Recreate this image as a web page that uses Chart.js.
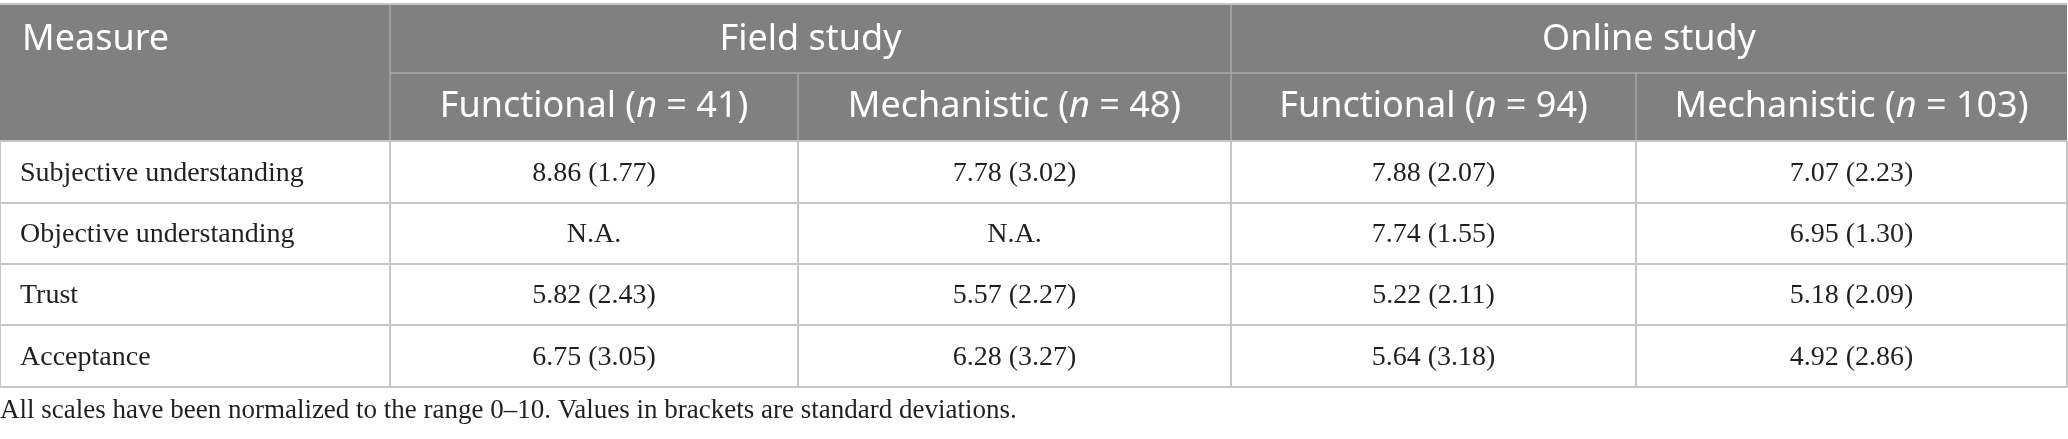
<!DOCTYPE html>
<html>
<head>
<meta charset="utf-8">
<script src="https://cdn.jsdelivr.net/npm/chart.js"></script>
<style>
  html, body { margin: 0; padding: 0; background: #ffffff; }
  #wrap { width: 2068px; height: 439px; }
</style>
</head>
<body>
<div id="wrap"><canvas id="tableChart" width="2068" height="439"></canvas></div>
<script>
// table content
const headerMeasure = "Measure";
const studies = ["Field study", "Online study"];
const conditions = ["Functional", "Mechanistic"];
const sampleSizes = [41, 48, 94, 103];
const measures = ["Subjective understanding", "Objective understanding", "Trust", "Acceptance"];
const missingLabel = "N.A.";

const fieldFunctionalM = [8.86, null, 5.82, 6.75];
const fieldFunctionalSD = [1.77, null, 2.43, 3.05];
const fieldMechanisticM = [7.78, null, 5.57, 6.28];
const fieldMechanisticSD = [3.02, null, 2.27, 3.27];
const onlineFunctionalM = [7.88, 7.74, 5.22, 5.64];
const onlineFunctionalSD = [2.07, 1.55, 2.11, 3.18];
const onlineMechanisticM = [7.07, 6.95, 5.18, 4.92];
const onlineMechanisticSD = [2.23, 1.30, 2.09, 2.86];

const footnote = "All scales have been normalized to the range 0\u201310. Values in brackets are standard deviations.";

// layout (table units), kept apart from the data
const colWidths = [390, 408, 433, 405, 431];
const rowHeights = [69, 68, 62, 61, 61, 62];
const cellPadLeft = 20;
const headerPadLeft = 22;

const headerFill = "#808080";
const headerLine = "#a9a9a9";
const bodyLine = "#c6c6c6";
const textDark = "#231f20";
const sansFont = "'Noto Sans', 'Open Sans', sans-serif";
const serifFont = "'Liberation Serif', 'DejaVu Serif', serif";
const headerSize = 36;
const bodySize = 28;
const noteSize = 27;

function edges(sizes) {
  const out = [0];
  sizes.forEach(s => out.push(out[out.length - 1] + s));
  return out;
}
const colEdges = edges(colWidths);
const rowEdges = edges(rowHeights);
const colCenter = c => (colEdges[c] + colEdges[c + 1]) / 2;
const rowCenter = r => (rowEdges[r] + rowEdges[r + 1]) / 2;

function cellText(m, sd) {
  if (m === null) return missingLabel;
  return `${m.toFixed(2)} (${sd.toFixed(2)})`;
}

const valueColumns = [
  [fieldFunctionalM, fieldFunctionalSD],
  [fieldMechanisticM, fieldMechanisticSD],
  [onlineFunctionalM, onlineFunctionalSD],
  [onlineMechanisticM, onlineMechanisticSD],
];

// one dataset per table column, points sit at the cell anchors
const datasets = [];
datasets.push({
  label: headerMeasure,
  data: measures.map((name, i) => ({ x: colEdges[0] + cellPadLeft, y: rowCenter(2 + i), text: name })),
  align: "left",
  pointRadius: 0,
});
valueColumns.forEach(([ms, sds], j) => {
  datasets.push({
    label: conditions[j % 2],
    data: ms.map((m, i) => ({ x: colCenter(1 + j), y: rowCenter(2 + i), text: cellText(m, sds[i]) })),
    align: "center",
    pointRadius: 0,
  });
});

function drawLine(ctx, x1, y1, x2, y2) {
  ctx.beginPath();
  ctx.moveTo(x1, y1);
  ctx.lineTo(x2, y2);
  ctx.stroke();
}

// header label with italic n, centred on cx
function drawHeaderLabel(ctx, cond, n, cx, cy) {
  const parts = [
    [cond + " (", "normal"],
    ["n", "italic"],
    [" = " + n + ")", "normal"],
  ];
  let total = 0;
  parts.forEach(([t, st]) => {
    ctx.font = `${st} 400 ${headerSize}px ${sansFont}`;
    total += ctx.measureText(t).width;
  });
  let x = cx - total / 2;
  parts.forEach(([t, st]) => {
    ctx.font = `${st} 400 ${headerSize}px ${sansFont}`;
    ctx.fillText(t, x, cy);
    x += ctx.measureText(t).width;
  });
}

const tablePlugin = {
  id: "tablePlugin",
  beforeDatasetsDraw(chart) {
    const { ctx, scales: { x, y } } = chart;
    const xe = colEdges.map(v => x.getPixelForValue(v));
    const ye = rowEdges.map(v => y.getPixelForValue(v));
    const last = xe.length - 1;
    ctx.save();

    // header block
    ctx.fillStyle = headerFill;
    ctx.fillRect(xe[0], ye[0], xe[last] - xe[0], ye[2] - ye[0]);

    // header inner lines
    ctx.strokeStyle = headerLine;
    ctx.lineWidth = 1.5;
    drawLine(ctx, xe[1], ye[1], xe[last], ye[1]);
    drawLine(ctx, xe[1], ye[0], xe[1], ye[2]);
    drawLine(ctx, xe[3], ye[0], xe[3], ye[2]);
    drawLine(ctx, xe[2], ye[1], xe[2], ye[2]);
    drawLine(ctx, xe[4], ye[1], xe[4], ye[2]);

    // body grid + outer border
    ctx.strokeStyle = bodyLine;
    ctx.lineWidth = 2;
    drawLine(ctx, xe[0], ye[0], xe[last], ye[0]);
    for (let r = 2; r < ye.length; r++) drawLine(ctx, xe[0], ye[r], xe[last], ye[r]);
    for (let c = 0; c < xe.length; c++) drawLine(ctx, xe[c], ye[2], xe[c], ye[ye.length - 1]);
    ctx.restore();
  },
  afterDatasetsDraw(chart) {
    const { ctx, scales: { x, y } } = chart;
    const xe = colEdges.map(v => x.getPixelForValue(v));
    const ye = rowEdges.map(v => y.getPixelForValue(v));
    ctx.save();
    ctx.textBaseline = "middle";

    // header texts
    ctx.fillStyle = "#ffffff";
    ctx.font = `400 ${headerSize}px ${sansFont}`;
    ctx.textAlign = "left";
    ctx.fillText(headerMeasure, x.getPixelForValue(headerPadLeft), (ye[0] + ye[1]) / 2 + 1);
    ctx.textAlign = "center";
    studies.forEach((s, k) => {
      ctx.font = `400 ${headerSize}px ${sansFont}`;
      ctx.fillText(s, (xe[1 + 2 * k] + xe[3 + 2 * k]) / 2, (ye[0] + ye[1]) / 2 + 1);
    });
    ctx.textAlign = "left";
    sampleSizes.forEach((n, j) => {
      drawHeaderLabel(ctx, conditions[j % 2], n, (xe[1 + j] + xe[2 + j]) / 2, (ye[1] + ye[2]) / 2);
    });

    // body cells from dataset elements
    ctx.fillStyle = textDark;
    ctx.font = `400 ${bodySize}px ${serifFont}`;
    chart.data.datasets.forEach((ds, di) => {
      const meta = chart.getDatasetMeta(di);
      ctx.textAlign = ds.align;
      meta.data.forEach((pt, i) => {
        ctx.fillText(ds.data[i].text, pt.x, pt.y + 1.5);
      });
    });
    ctx.restore();
  },
};

new Chart(document.getElementById("tableChart"), {
  type: "scatter",
  data: { datasets: datasets },
  plugins: [tablePlugin],
  options: {
    responsive: false,
    animation: false,
    devicePixelRatio: 1,
    layout: { padding: { top: 4, right: 1, left: 0, bottom: 0 } },
    scales: {
      x: { type: "linear", display: false, min: colEdges[0], max: colEdges[colEdges.length - 1] },
      y: { type: "linear", display: false, reverse: true, min: rowEdges[0], max: rowEdges[rowEdges.length - 1] },
    },
    plugins: {
      legend: { display: false },
      tooltip: { enabled: false },
      title: {
        display: true,
        position: "bottom",
        align: "start",
        text: footnote,
        color: textDark,
        font: { family: serifFont, size: noteSize, weight: "normal" },
        padding: { top: 7.8, bottom: 11.8 },
      },
    },
  },
});
</script>
</body>
</html>
